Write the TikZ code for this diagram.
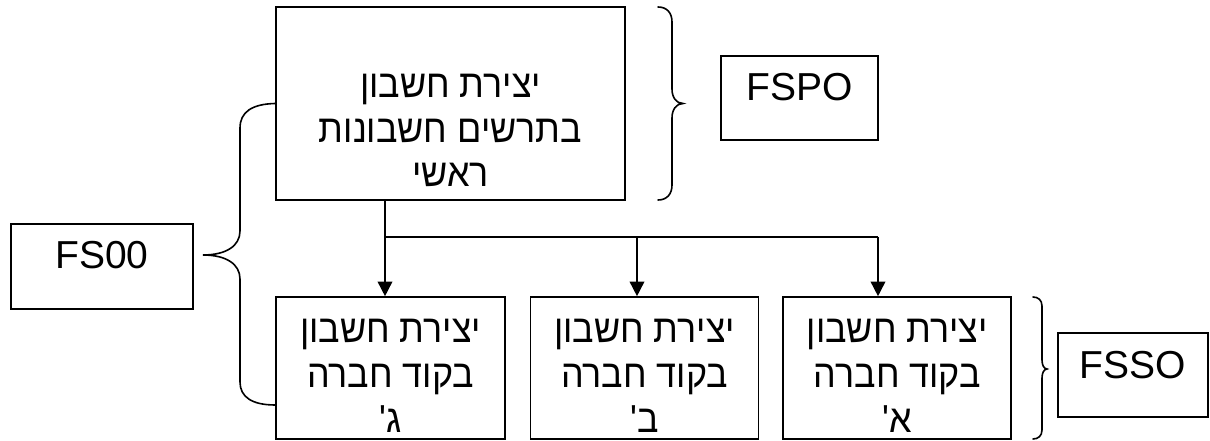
\documentclass[tikz,border=0pt]{standalone}
\usepackage{fontspec}
\setmainfont{Liberation Sans}
\newfontfamily\hebfont[Script=Hebrew, FakeStretch=0.92]{Liberation Sans}
\usetikzlibrary{arrows.meta,positioning}
\TeXXeTstate=1
\newcommand{\heb}[1]{{\hebfont\beginR #1\endR}}
\newcommand{\boxtext}[4]{\parbox[c][#2][t]{#1}{\centering\vspace*{#3}\strut#4}}

\begin{document}
\begin{tikzpicture}[
  x=0.75pt, y=-0.75pt,
  tbox/.style={rectangle, draw, line width=1.2pt, inner sep=0pt,
    font=\fontsize{29.25pt}{33.5pt}\selectfont},
  line/.style={line width=1.2pt},
  arrow/.style={line, -{Triangle[length=11pt, width=11pt]}},
  brace/.style={line width=1.2pt, line cap=round}
]
\useasboundingbox (0,0) rectangle (1210,441);

% Top box
\node[tbox] (main) at (450.5,103.5)
  {\boxtext{261.75pt}{144.75pt}{44.5pt}{\heb{יצירת חשבון}\\\heb{בתרשים חשבונות}\\\heb{ראשי}}};

% Side labels
\node[tbox] (fspo) at (799.5,98) {\boxtext{117.75pt}{63pt}{10.3pt}{FSPO}};
\node[tbox] (fsoo) at (102,266.5) {\boxtext{136.5pt}{63.75pt}{10.3pt}{FS00}};
\node[tbox] (fsso) at (1133,375) {\boxtext{112.5pt}{63pt}{10.3pt}{FSSO}};

% Company boxes
\node[tbox] (gimel) at (390.5,368)
  {\boxtext{171.75pt}{106.5pt}{11pt}{\heb{יצירת חשבון}\\\heb{בקוד חברה}\\\heb{ג'}}};
\node[tbox, right=18pt of gimel] (bet)
  {\boxtext{171pt}{106.5pt}{11pt}{\heb{יצירת חשבון}\\\heb{בקוד חברה}\\\heb{ב'}}};
\node[tbox, right=17.25pt of bet] (aleph)
  {\boxtext{171pt}{106.5pt}{11pt}{\heb{יצירת חשבון}\\\heb{בקוד חברה}\\\heb{א'}}};

% Tree connectors
\coordinate (tee) at (385,237);
\coordinate (teeB) at (637,237);
\coordinate (teeA) at (878,237);
\draw[line] (main.south -| tee) -- (tee);
\draw[line] (tee) -- (teeA);
\draw[arrow] (tee) -- (gimel.north -| tee);
\draw[arrow] (teeB) -- (bet.north -| teeB);
\draw[arrow] (teeA) -- (aleph.north -| teeA);

% Braces
\draw[brace] (main.west) .. controls (252,104) and (240,112) .. (240,128)
  -- (240,231) .. controls (240,246) and (226,255) .. (203,255)
  .. controls (226,255) and (240,264) .. (240,279)
  -- (240,382) .. controls (240,397) and (252,405) .. (gimel.west |- 0,405);
\draw[brace] (658,7) .. controls (667,7) and (672,13) .. (672,22)
  -- (672,89) .. controls (672,97) and (676,103.5) .. (683,103.5)
  .. controls (676,103.5) and (672,110) .. (672,118)
  -- (672,185) .. controls (672,194) and (667,200) .. (658,200);
\draw[brace] (1033,297) .. controls (1038,297) and (1042,300) .. (1042,306)
  -- (1042,360) .. controls (1042,365) and (1044,369) .. (1047,369)
  .. controls (1044,369) and (1042,373) .. (1042,378)
  -- (1042,430) .. controls (1042,436) and (1038,439) .. (1033,439);

\end{tikzpicture}
\end{document}
